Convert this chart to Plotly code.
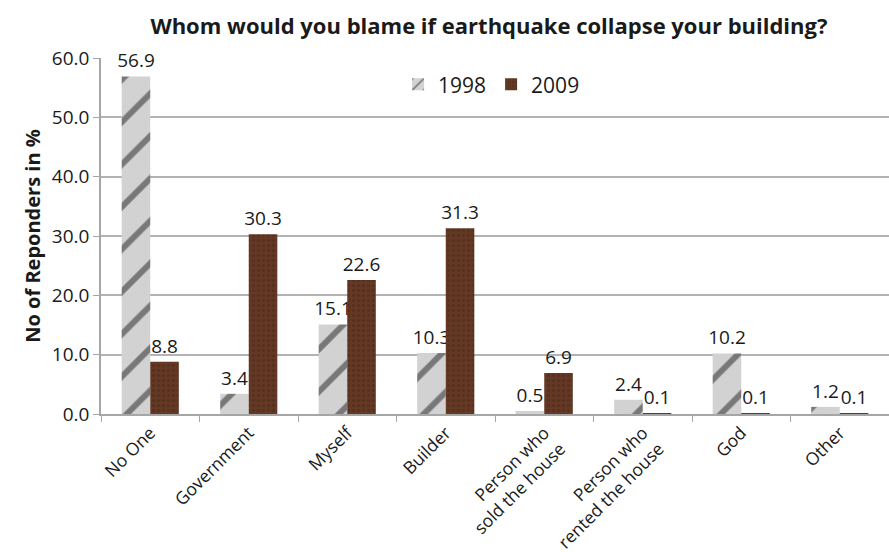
import plotly.graph_objects as go

categories = ["No One", "Government", "Myself", "Builder",
              "Person who<br>sold the house", "Person who<br>rented the house",
              "God", "Other"]
values_1998 = [56.9, 3.4, 15.1, 10.3, 0.5, 2.4, 10.2, 1.2]
values_2009 = [8.8, 30.3, 22.6, 31.3, 6.9, 0.1, 0.1, 0.1]
y_ticks = [0, 10, 20, 30, 40, 50, 60]

FONT = "Open Sans"
LABEL_SIZE = 19

fig = go.Figure()
fig.add_trace(go.Bar(
    name="1998", x=categories, y=values_1998,
    marker=dict(color="#cfcfcf", line=dict(width=0),
                pattern=dict(shape="/", fgcolor="#1e1e1e", bgcolor="#d2d2d2",
                             size=30, solidity=0.2)),
    texttemplate="%{y:.1f}", textposition="outside", cliponaxis=False,
    constraintext="none",
    textfont=dict(size=LABEL_SIZE, color="#1a1a1a", family=FONT),
))
fig.add_trace(go.Bar(
    name="2009", x=categories, y=values_2009,
    marker=dict(color="#5a3220", line=dict(width=0),
                pattern=dict(shape=".", fgcolor="#4a2818", bgcolor="#633824",
                             size=5, solidity=0.3)),
    texttemplate="%{y:.1f}", textposition="outside", cliponaxis=False,
    constraintext="none",
    textfont=dict(size=LABEL_SIZE, color="#1a1a1a", family=FONT),
))

fig.update_layout(
    width=889, height=552,
    margin=dict(l=101, r=0, t=58, b=138),
    paper_bgcolor="white", plot_bgcolor="white",
    barmode="group", bargap=0.42, bargroupgap=0,
    font=dict(family=FONT, color="#1a1a1a"),
    title=dict(text="<b>Whom would you blame if earthquake collapse your building?</b>",
               x=0.55, xanchor="center", y=0.953, yanchor="middle",
               font=dict(size=22, family=FONT, color="#1a1a1a")),
    legend=dict(orientation="h", x=0.377, xanchor="left", y=0.925, yanchor="middle",
                font=dict(size=21, family=FONT), bgcolor="rgba(0,0,0,0)",
                itemwidth=30),
    showlegend=True,
)
fig.update_xaxes(
    automargin=False,
    showline=True, linecolor="#a6a6a6", linewidth=1.5,
    ticks="outside", tickson="boundaries", ticklen=6, tickcolor="#a6a6a6",
    tickangle=-45, tickfont=dict(size=17.5, family=FONT),
)
fig.update_yaxes(
    automargin=False,
    range=[0, 60], tickvals=y_ticks, tickformat=".1f",
    showgrid=True, gridcolor="#b3b3b3", gridwidth=1.5,
    showline=True, linecolor="#a6a6a6", linewidth=1.5,
    ticks="outside", ticklen=6, tickcolor="#a6a6a6",
    tickfont=dict(size=LABEL_SIZE, family=FONT), zeroline=False,
    title=dict(text="<b>No of Reponders in %</b>", font=dict(size=20, family=FONT),
               standoff=6),
)

fig.write_html("out.html")
